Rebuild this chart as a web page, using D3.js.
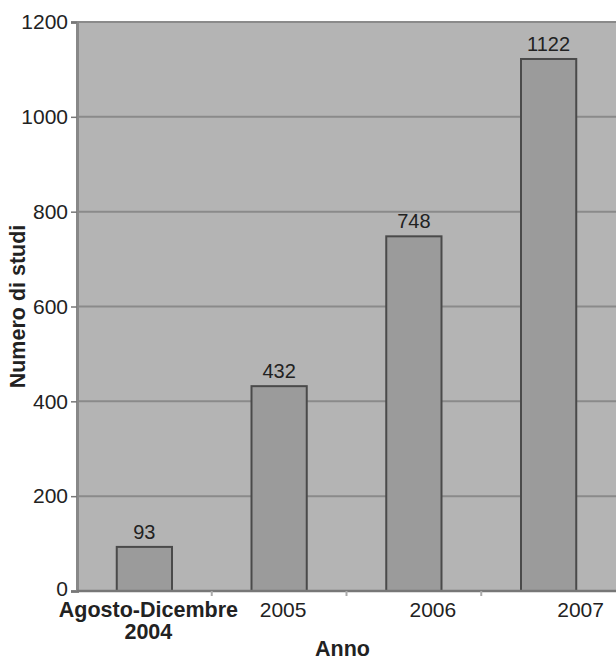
<!DOCTYPE html>
<html>
<head>
<meta charset="utf-8">
<script src="https://cdn.jsdelivr.net/npm/d3@7"></script>
<style>
  html, body { margin: 0; padding: 0; background: #fff; }
  svg { display: block; font-family: "Liberation Sans", Arial, Helvetica, sans-serif; }
</style>
</head>
<body>
<svg id="chart" width="616" height="661"></svg>
<script>
// Numero di studi per anno
const categories = ["Agosto-Dicembre\n2004", "2005", "2006", "2007"];
const studies = [93, 432, 748, 1122];
const yTicks = [0, 200, 400, 600, 800, 1000, 1200];

const W = 616, H = 661;
const margin = { top: 22, right: 0, bottom: 70, left: 77 };
const plotW = W - margin.left - margin.right;
const plotH = H - margin.top - margin.bottom;

const svg = d3.select("#chart");
const g = svg.append("g").attr("transform", `translate(${margin.left},${margin.top})`);

const x = d3.scaleBand().domain(categories).range([0, plotW]).paddingInner(0.59).paddingOuter(0.295);
const y = d3.scaleLinear().domain([0, 1200]).range([plotH, 0]);

// plot background
g.append("rect").attr("x", 0).attr("y", 0).attr("width", plotW).attr("height", plotH)
  .attr("fill", "#b4b4b4");

// horizontal gridlines
g.selectAll("line.grid").data(yTicks.filter(d => d > 0)).join("line")
  .attr("class", "grid")
  .attr("x1", 0).attr("x2", plotW)
  .attr("y1", d => y(d)).attr("y2", d => y(d))
  .attr("stroke", "#8a8a8a").attr("stroke-width", 2);

// bars
g.selectAll("rect.bar").data(studies).join("rect")
  .attr("class", "bar")
  .attr("x", (d, i) => x(categories[i]))
  .attr("y", d => y(d))
  .attr("width", x.bandwidth())
  .attr("height", d => plotH - y(d))
  .attr("fill", "#9b9b9b")
  .attr("stroke", "#4a4a4a").attr("stroke-width", 2);

// value labels
g.selectAll("text.val").data(studies).join("text")
  .attr("class", "val")
  .attr("x", (d, i) => x(categories[i]) + x.bandwidth() / 2)
  .attr("y", d => y(d) - 8)
  .attr("text-anchor", "middle")
  .attr("font-size", 20).attr("fill", "#222")
  .text(d => d);

// y axis
const yAxis = g.append("g").call(d3.axisLeft(y).tickValues(yTicks).tickFormat(d3.format("d")).tickSize(6).tickPadding(3));
yAxis.select(".domain").attr("stroke", "#888").attr("stroke-width", 3);
yAxis.selectAll(".tick line").attr("stroke", "#777").attr("stroke-width", 1.5);
yAxis.selectAll(".tick text").attr("font-size", 21).attr("fill", "#222")
  .attr("font-family", "'Liberation Sans', Arial, sans-serif");
// lift the zero label slightly so it clears the category labels below
yAxis.selectAll(".tick text").filter(d => d === 0).attr("dy", "0.2em");

// x axis line and separators between categories
g.append("line").attr("x1", 0).attr("x2", plotW).attr("y1", plotH).attr("y2", plotH)
  .attr("stroke", "#777").attr("stroke-width", 2.5);
const step = x.step();
g.selectAll("line.sep").data(categories.slice(1)).join("line")
  .attr("class", "sep")
  .attr("x1", d => x(d) - step * x.paddingInner() / 2)
  .attr("x2", d => x(d) - step * x.paddingInner() / 2)
  .attr("y1", plotH).attr("y2", plotH + 5)
  .attr("stroke", "#aaa").attr("stroke-width", 2);

// category labels
const labelShift = [4, 4, 19, 32];
categories.forEach((c, i) => {
  const lines = c.split("\n");
  const bold = lines.length > 1;
  const t = g.append("text")
    .attr("x", x(c) + x.bandwidth() / 2 + labelShift[i])
    .attr("y", plotH + 26)
    .attr("text-anchor", "middle")
    .attr("font-size", bold ? 21.5 : 21).attr("fill", "#222")
    .attr("font-weight", bold ? "bold" : "normal");
  lines.forEach((l, j) => {
    t.append("tspan").attr("x", x(c) + x.bandwidth() / 2 + labelShift[i])
      .attr("dy", j === 0 ? 0 : 22).text(l);
  });
});

// axis titles
svg.append("text")
  .attr("x", margin.left + plotW / 2 - 4).attr("y", H - 5)
  .attr("text-anchor", "middle").attr("font-size", 21.5).attr("font-weight", "bold").attr("fill", "#222")
  .text("Anno");

svg.append("text")
  .attr("transform", `translate(25,${margin.top + plotH / 2})rotate(-90)`)
  .attr("text-anchor", "middle").attr("font-size", 21.5).attr("font-weight", "bold").attr("fill", "#222")
  .text("Numero di studi");
</script>
</body>
</html>
